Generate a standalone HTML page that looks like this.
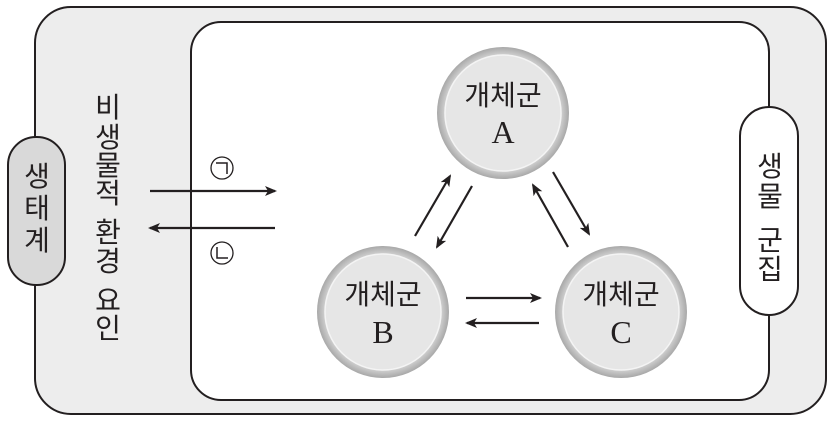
<!DOCTYPE html>
<html><head><meta charset="utf-8"><style>
html,body{margin:0;padding:0;background:#fff}
svg{display:block}
text{font-family:"Liberation Sans","Noto Sans CJK KR",sans-serif;fill:#231f20}
</style></head><body>
<svg width="834" height="422" viewBox="0 0 834 422" xmlns="http://www.w3.org/2000/svg">
<defs>
<marker id="ah" markerWidth="12" markerHeight="10" refX="10" refY="5" orient="auto" markerUnits="userSpaceOnUse">
<path d="M0,0 L12,5 L0,10 L3,5 Z" fill="#231f20"/>
</marker>
<radialGradient id="ring" cx="50%" cy="50%" r="50%">
<stop offset="88%" stop-color="#d0d0d0"/><stop offset="100%" stop-color="#a8a8a8"/>
</radialGradient>
</defs>
<rect x="35" y="7" width="791" height="407" rx="36" fill="#ededed" stroke="#231f20" stroke-width="2"/>
<rect x="191" y="22" width="578" height="378" rx="30" fill="#fff" stroke="#231f20" stroke-width="2"/>
<rect x="8" y="137" width="57" height="148" rx="28" fill="#d9d9d9" stroke="#231f20" stroke-width="2"/>
<rect x="740" y="107" width="58" height="208" rx="29" fill="#fff" stroke="#231f20" stroke-width="2"/>

<g font-size="28" text-anchor="middle">
<text x="37" y="186">생</text><text x="37" y="218">태</text><text x="37" y="250">계</text>
<text x="770" y="176">생</text><text x="770" y="206">물</text><text x="770" y="250">군</text><text x="770" y="279">집</text>
<text x="108" y="117">비</text><text x="108" y="147">생</text><text x="108" y="175">물</text><text x="108" y="203">적</text>
<text x="108" y="242">환</text><text x="108" y="271">경</text>
<text x="108" y="310">요</text><text x="108" y="338">인</text>
</g>

<circle cx="222" cy="168" r="11" fill="none" stroke="#231f20" stroke-width="1.3"/>
<path d="M216,163 H227 V174" fill="none" stroke="#231f20" stroke-width="1.5"/>
<circle cx="222" cy="253" r="11" fill="none" stroke="#231f20" stroke-width="1.3"/>
<path d="M217,247 V258 H228" fill="none" stroke="#231f20" stroke-width="1.5"/>

<g stroke="#231f20" stroke-width="2.2" marker-end="url(#ah)">
<line x1="150" y1="191" x2="275" y2="191"/>
<line x1="275" y1="228" x2="150" y2="228"/>
<line x1="415" y1="236" x2="450" y2="176"/>
<line x1="472" y1="186" x2="437" y2="247"/>
<line x1="568" y1="247" x2="533" y2="185"/>
<line x1="553" y1="172" x2="589" y2="234"/>
<line x1="466" y1="298" x2="540" y2="298"/>
<line x1="539" y1="323" x2="467" y2="323"/>
</g>

<g>
<circle cx="503" cy="113" r="66" fill="url(#ring)"/>
<circle cx="503" cy="113" r="58" fill="#e6e6e6" stroke="#f4f4f4" stroke-width="1.5"/>
<circle cx="383" cy="312" r="66" fill="url(#ring)"/>
<circle cx="383" cy="312" r="58" fill="#e6e6e6" stroke="#f4f4f4" stroke-width="1.5"/>
<circle cx="621" cy="312" r="66" fill="url(#ring)"/>
<circle cx="621" cy="312" r="58" fill="#e6e6e6" stroke="#f4f4f4" stroke-width="1.5"/>
</g>
<g text-anchor="middle">
<text x="503" y="105" font-size="28">개체군</text>
<text x="503" y="143" font-size="32" style="font-family:'Liberation Serif',serif">A</text>
<text x="383" y="304" font-size="28">개체군</text>
<text x="383" y="343" font-size="32" style="font-family:'Liberation Serif',serif">B</text>
<text x="621" y="304" font-size="28">개체군</text>
<text x="621" y="343" font-size="32" style="font-family:'Liberation Serif',serif">C</text>
</g>
</svg>
</body></html>
